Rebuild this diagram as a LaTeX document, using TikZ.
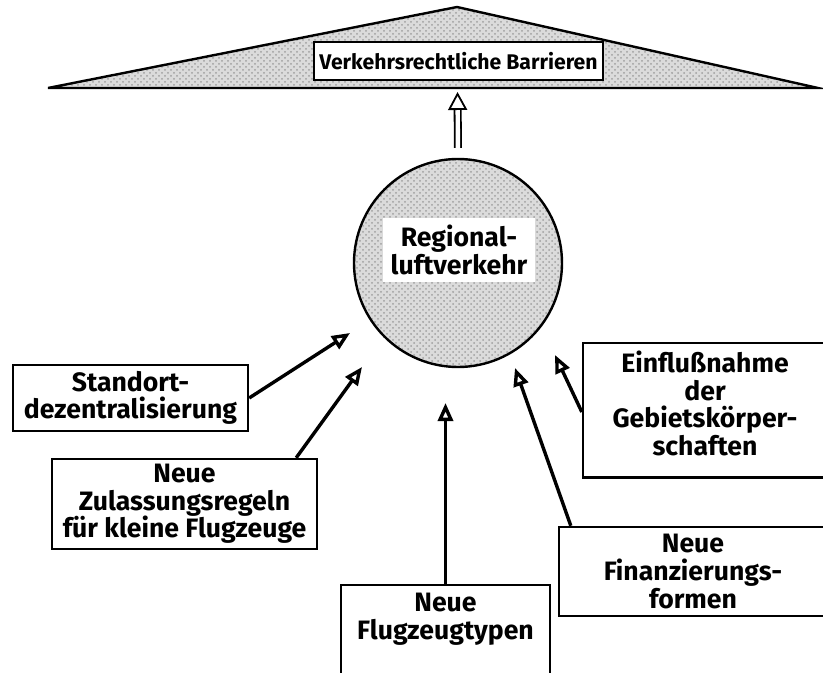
\documentclass[tikz,border=0pt]{standalone}
\usepackage{fontspec}
\setmainfont{Fira Sans}
\usepackage{tikz}
\usetikzlibrary{shapes,arrows.meta}
\usetikzlibrary{positioning,patterns}
\usetikzlibrary{calc}
\colorlet{sprenkel}{gray!75}
\tikzset{%
  kasten/.style={%
    draw, line width=1.2pt, fill=white,
    align=center, inner sep=0pt,
    font=\fontsize{13.3pt}{13.8pt}\selectfont\bfseries
  },
  pfeil/.style={%
    -{Triangle[open,length=9pt,width=7.5pt]},
    line width=1.7pt
  },
  hohlpfeil/.style={%
    -{Triangle[open,length=9pt,width=9.5pt]},
    double, double distance=2.2pt, line width=0.9pt,
    shorten <=5pt, shorten >=2pt
  },
  getupft/.style={%
    preaction={fill=gray!28},
    pattern=crosshatch dots, pattern color=sprenkel
  }
}

\begin{document}
\begin{tikzpicture}[x=0.5pt,y=-0.5pt]
\path[use as bounding box, fill=white] (0,0) rectangle (823,673);

\coordinate (links) at (48,88);
\coordinate (spitze) at (457,7);
\coordinate (rechts) at (818,88);
\coordinate (basis) at (457.5,88);
\draw[getupft, line width=1.2pt] (links) -- (spitze) -- (rechts) -- cycle;
\node[kasten, font=\fontsize{10.6pt}{12pt}\selectfont\bfseries,
      minimum width=144.5pt, minimum height=19pt] (barriere) at (458.5,61)
      {Verkehrsrechtliche Barrieren};

\node[circle, draw, line width=1.2pt, getupft, minimum size=104pt] (kreis) at (458,263) {};
\node[kasten, draw=none, minimum width=76pt, minimum height=32pt] (regional) at (459,250)
      {Regional-\\luftverkehr};
\draw[hohlpfeil] (kreis.north) -- (basis);

\node[kasten, minimum width=117.5pt, minimum height=33pt] (standort) at (130.5,398)
      {Standort-\\dezentralisierung};
\node[kasten, minimum width=132.5pt, minimum height=45pt] (zulassung) at (184.5,504)
      {Neue\\Zulassungsregeln\\für kleine Flugzeuge};
\node[kasten, anchor=north, minimum width=104.5pt, inner ysep=4pt, text depth=36pt] (flugzeug) at (445.5,584)
      {Neue\\Flugzeugtypen};
\node[kasten, minimum width=134pt, minimum height=44.5pt] (finanz) at (693,571.5)
      {Neue\\Finanzierungs-\\formen};
\node[kasten, anchor=north, minimum width=122pt, inner ysep=4pt, text depth=7pt] (einfluss) at (705,342)
      {Einflußnahme\\der\\Gebietskörper-\\schaften};

\coordinate (t1) at (350,333);
\coordinate (t2) at (362,367);
\coordinate (t3) at (445.5,403);
\coordinate (t4) at (515,368);
\coordinate (t5) at (555,355);

\draw[pfeil] (standort.east) -- (t1);
\draw[pfeil] ($(zulassung.north east)+(-22,0)$) -- (t2);
\draw[pfeil] (flugzeug.north) -- (t3);
\draw[pfeil] ($(finanz.north west)+(13,0)$) -- (t4);
\draw[pfeil] ($(einfluss.north west)+(0,70)$) -- (t5);
\end{tikzpicture}
\end{document}
